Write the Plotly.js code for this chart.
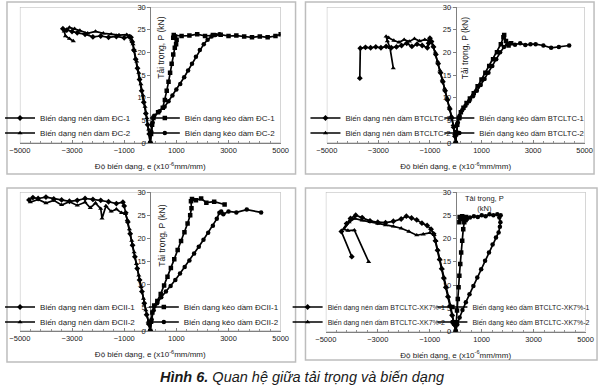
<!DOCTYPE html>
<html>
<head>
<meta charset="utf-8">
<script src="https://cdn.plot.ly/plotly-3.0.1.min.js"></script>
<style>html,body{margin:0;padding:0;background:#fff}#chart{width:600px;height:391px}</style>
</head>
<body>
<div id="chart"></div>
<script>
// ---------- DATA (strain e in x10^-6 mm/mm, load P in kN) ----------
const xTickVals = [-5000, -3000, -1000, 1000, 3000, 5000];
const yTickVals = [0, 5, 10, 15, 20, 25, 30];

// Panel 1: ĐC
const dcNames = ["Biến dạng nén dầm ĐC-1", "Biến dạng kéo dầm ĐC-1", "Biến dạng nén dầm ĐC-2", "Biến dạng kéo dầm ĐC-2"];
const dcNen1X = [0,-40,-100,-170,-250,-330,-410,-490,-560,-630,-690,-740,-800,-1000,-1300,-1600,-1900,-2200,-2500,-2800,-3000,-3200,-3350];
const dcNen1Y = [0,2,4,6.5,9,11.5,14,16.5,18.5,20.5,22.3,23.3,23.4,23.2,23.5,23.3,23.6,23.4,24,24.3,24.6,24.9,25.2];
const dcNen2X = [0,-60,-130,-200,-280,-360,-440,-520,-600,-660,-720,-780,-900,-1200,-1500,-1800,-2100,-2400,-2700,-2900,-3100,-3300,-3250,-3100,-2950];
const dcNen2Y = [0,3,5.5,8,10.5,13,15.5,18,20.3,21.8,22.8,23.6,23.9,23.8,24,24.2,24.6,24.2,24.8,25.2,25.5,24.6,23.6,23,22.5];
const dcKeo1X = [0,30,70,120,300,480,560,630,700,760,820,880,940,990,1010,950,880,900,1200,1500,1800,2100,2400,2700,3000,3300,3600,3900,4200,4500,4800,5000];
const dcKeo1Y = [0,2,4,5.5,6.8,7.8,9.5,11.5,13.5,15.5,17.5,19.5,21,21.8,22.8,23.5,23.2,23.8,23.6,23.7,24,23.6,23.8,23.9,23.6,23.7,23.5,23.3,23.5,23.3,23.6,24];
const dcKeo2X = [0,40,90,150,350,550,700,850,1000,1150,1300,1450,1600,1750,1900,2050,2200,2350,2500,2650];
const dcKeo2Y = [0,2.5,4.5,6,7,8,9.2,10.5,11.8,13,14.5,16,17.5,19,20.5,21.8,22.8,23.5,23.8,24];

// Panel 2: BTCLTC
const btNames = ["Biến dạng nén dầm BTCLTC-1", "Biến dạng kéo dầm BTCLTC-1", "Biến dạng nén dầm BTCLTC-2", "Biến dạng kéo dầm BTCLTC-2"];
const btNen1X = [0,-30,-80,-150,-230,-320,-410,-500,-590,-680,-770,-860,-940,-1000,-1050,-1100,-1300,-1500,-1700,-1900,-2100,-2300,-2500,-2700,-2900,-3100,-3300,-3500,-3700,-3720];
const btNen1Y = [0,1.5,3.5,5.5,7.5,9.5,11.5,13.5,15.5,17.5,19.5,21.2,22.4,23.1,22,21,21.5,21.8,21.3,22,21.5,21.2,21,21.3,21,21.2,21,21.1,20.9,14.3];
const btNen2X = [0,-40,-100,-170,-250,-340,-430,-520,-610,-700,-790,-880,-960,-1020,-1200,-1400,-1600,-1800,-2000,-2200,-2400,-2600,-2700,-2650,-2550,-2420];
const btNen2Y = [0,2,4,6,8,10,12,14,16,18,20,21.5,22.3,22.6,22.8,22.5,23,22.4,22.8,22.2,22.6,23.2,23.5,22.5,21,16.5];
const btKeo1X = [0,20,60,120,200,300,420,550,700,850,1000,1150,1300,1450,1600,1750,1850,1880,1950,2050,2150];
const btKeo1Y = [0,2,4,5.5,6.8,7.8,8.8,9.8,11,12.5,14,15.5,17,18.5,20,21.8,23.3,23.8,22.5,21.5,22];
const btKeo2X = [0,30,80,150,250,380,520,670,820,970,1120,1270,1420,1570,1720,1870,2000,2100,2300,2500,2700,2900,3100,3400,3700,4000,4400];
const btKeo2Y = [0,2.5,4.5,6,7.2,8.2,9.2,10.3,11.5,12.8,14.1,15.5,17,18.5,20,21.2,21.8,22,21.7,22,21.6,21.8,21.8,21.5,21,21.2,21.5];

// Panel 3: ĐCII
const dciiNames = ["Biến dạng nén dầm ĐCII-1", "Biến dạng kéo dầm ĐCII-1", "Biến dạng nén dầm ĐCII-2", "Biến dạng kéo dầm ĐCII-2"];
const dciiNen1X = [0,-60,-140,-230,-320,-410,-500,-590,-680,-770,-860,-940,-1000,-1050,-1300,-1600,-1900,-2200,-2500,-2800,-3100,-3400,-3700,-4000,-4300,-4500,-4650];
const dciiNen1Y = [0,1.5,3.5,6,8.5,11,13.5,16,18.5,21,23.5,25.5,27,27.8,27.5,27.9,28.2,28.4,28.6,28.2,28,28.3,28.5,28.9,28.6,28.8,28.3];
const dciiNen2X = [0,-80,-170,-260,-350,-440,-530,-620,-710,-800,-880,-950,-1100,-1300,-1500,-1700,-1850,-1900,-2100,-2300,-2500,-2800,-3100,-3400,-3700,-4000,-4300,-4600];
const dciiNen2Y = [0,2,4.5,7,9.5,12,14.5,17,19.5,22,24,25.3,25.5,26.3,25.8,27,24.3,26.4,27.6,26.6,27.8,27.1,27.9,27.2,28.2,27.6,28.4,27.8];
const dciiKeo1X = [0,30,80,150,270,400,530,660,790,920,1050,1180,1310,1430,1530,1580,1560,1600,1750,1950,2150,2450,2850];
const dciiKeo1Y = [0,2,4,5.5,6.5,8,9.8,11.7,13.6,15.5,17.5,19.4,21.3,23.2,25,26.5,28,28.5,28.2,28.6,27.7,27.9,27.3];
const dciiKeo2X = [0,50,130,260,420,600,780,960,1140,1320,1500,1680,1860,2040,2220,2400,2550,2650,2720,2800,3000,3300,3700,4250];
const dciiKeo2Y = [0,2.5,4.5,6,7.3,8.5,9.7,11,12.4,13.8,15.2,16.7,18.2,19.7,21.2,22.7,24.2,25.5,25.8,25.2,25.8,25.6,26.2,25.6];

// Panel 4: BTCLTC-XK7%
const xkNames = ["Biến dạng nén dầm BTCLTC-XK7%-1", "Biến dạng kéo dầm BTCLTC-XK7%-1", "Biến dạng nén dầm BTCLTC-XK7%-2", "Biến dạng kéo dầm BTCLTC-XK7%-2"];
const xkNen1X = [0,-60,-140,-220,-300,-380,-460,-540,-620,-700,-780,-850,-950,-1100,-1300,-1500,-1700,-1900,-2100,-2400,-2700,-3000,-3300,-3600,-3850,-4050,-4200,-4400,-4000];
const xkNen1Y = [0,1.5,3.5,5.5,7.5,9.5,11.5,13.5,15.5,17.5,19.5,21,22,22.8,23.3,24,24.4,24.8,24.2,23.7,23.4,23.5,23.8,24.5,25,24.3,23.2,21.5,16.1];
const xkNen2X = [0,-50,-120,-200,-280,-360,-440,-520,-600,-680,-760,-830,-1000,-1250,-1500,-1800,-2100,-2400,-2700,-3000,-3300,-3600,-3900,-4100,-4300,-4150,-3900,-3350];
const xkNen2Y = [0,1.5,3.5,5.5,7.5,9.5,11.5,13.5,15.5,17.5,19.5,20.8,21.2,20.9,20.7,21.5,22.2,22.6,22.9,23.2,23.6,23.9,24.3,23.5,22,21.7,21.8,15];
const xkKeo1X = [0,20,50,80,110,140,175,210,250,290,330,380,420,300,180,140,150,250,400];
const xkKeo1Y = [0,2,4.5,7,9.5,12,14.5,17,19.5,22,23.5,24,24.3,24.4,24.2,23.5,24.6,24.8,24.6];
const xkKeo2X = [0,60,150,260,390,530,680,830,980,1130,1280,1420,1550,1650,1700,1720,1680,1730,1600,1450,1300,1150,1000,850,700,550,420];
const xkKeo2Y = [0,1.5,3,4.6,6.3,8,9.8,11.6,13.4,15.2,17,18.7,20.2,21.3,22.5,23.5,24.5,25,25.2,25,25.2,24.8,25,24.6,24.8,24.5,24.3];

// ---------- LAYOUT HELPERS ----------
const W = 600, H = 391;
const px = v => v / W, py = v => 1 - v / H;
const FONT = '"Liberation Sans", Arial, Helvetica, sans-serif';
const symbols = ['diamond', 'square', 'triangle-up', 'circle'];

const panels = [
  {names: dcNames, xs: [dcNen1X, dcKeo1X, dcNen2X, dcKeo2X], ys: [dcNen1Y, dcKeo1Y, dcNen2Y, dcKeo2Y],
   xl: 15, xr: 278, yt: 7, yb: 143, box: [2, 2, 293, 174],
   leg: {cols: [35, 181], rows: [118, 133], size: 8},
   ytitle: {x: 157, y: 48, rot: true}},
  {names: btNames, xs: [btNen1X, btKeo1X, btNen2X, btKeo2X], ys: [btNen1Y, btKeo1Y, btNen2Y, btKeo2Y],
   xl: 324.5, xr: 584.5, yt: 7, yb: 143, box: [303, 2, 594, 174],
   leg: {cols: [343, 478], rows: [118, 133], size: 7.7},
   ytitle: {x: 464, y: 48, rot: true}},
  {names: dciiNames, xs: [dciiNen1X, dciiKeo1X, dciiNen2X, dciiKeo2X], ys: [dciiNen1Y, dciiKeo1Y, dciiNen2Y, dciiKeo2Y],
   xl: 15, xr: 278, yt: 192, yb: 331, box: [2, 188, 293, 362],
   leg: {cols: [35, 180], rows: [307, 322], size: 8},
   ytitle: {x: 158, y: 236, rot: true}},
  {names: xkNames, xs: [xkNen1X, xkKeo1X, xkNen2X, xkKeo2X], ys: [xkNen1Y, xkKeo1Y, xkNen2Y, xkKeo2Y],
   xl: 323.5, xr: 585.5, yt: 192, yb: 331.5, box: [303, 188, 597, 360],
   leg: {cols: [325, 471], rows: [307, 322], size: 7},
   ytitle: {x: 484, y: 203, rot: false}}
];

const traces = [];
const layout = {
  width: W, height: H, autosize: false,
  margin: {l: 0, r: 0, t: 0, b: 0, pad: 0},
  paper_bgcolor: '#ffffff', plot_bgcolor: 'rgba(0,0,0,0)',
  font: {family: FONT, color: '#1a1a1a', size: 8},
  showlegend: true,
  shapes: [], annotations: []
};

let legendCount = 0;
panels.forEach((p, i) => {
  const n = i + 1;
  const xa = 'xaxis' + (n === 1 ? '' : n), ya = 'yaxis' + (n === 1 ? '' : n);
  const xr = 'x' + (n === 1 ? '' : n), yr = 'y' + (n === 1 ? '' : n);
  layout[xa] = {
    domain: [px(p.xl), px(p.xr)], range: [-5000, 5000], anchor: yr,
    tickmode: 'array', tickvals: xTickVals, ticks: 'inside', ticklen: 3, tickcolor: '#808080',
    minor: {dtick: 400, tick0: -5000, ticks: 'inside', ticklen: 2, tickcolor: '#909090'},
    showline: true, linecolor: '#808080', linewidth: 1, showgrid: false, zeroline: false,
    tickfont: {size: 7.5, color: '#1a1a1a'}, layer: 'below traces', fixedrange: true,
    title: {text: 'Độ biến dạng, e (x10<sup>-6</sup>mm/mm)', font: {size: 8, color: '#1a1a1a'}, standoff: 9}
  };
  layout[ya] = {
    domain: [py(p.yb), py(p.yt)], range: [0, 30], anchor: 'free',
    position: px((p.xl + p.xr) / 2),
    tickmode: 'array', tickvals: yTickVals, ticks: 'outside', ticklen: 3, tickcolor: '#808080',
    showline: true, linecolor: '#808080', linewidth: 1, showgrid: false, zeroline: false,
    tickfont: {size: 7.5, color: '#1a1a1a'}, layer: 'below traces', fixedrange: true
  };
  layout.shapes.push({type: 'rect', xref: xr, yref: yr, x0: -5000, x1: 5000, y0: 0, y1: 30,
    line: {color: '#b4b4b4', width: 1}, layer: 'below'});
  layout.shapes.push({type: 'rect', xref: 'paper', yref: 'paper',
    x0: px(p.box[0]), x1: px(p.box[2]), y0: py(p.box[3]), y1: py(p.box[1]),
    line: {color: '#bdbdbd', width: 1.5}, layer: 'below'});
  layout.annotations.push(p.ytitle.rot ? {
    xref: 'paper', yref: 'paper', x: px(p.ytitle.x), y: py(p.ytitle.y), showarrow: false,
    xanchor: 'center', yanchor: 'middle',
    text: 'Tải trọng, P (kN)', textangle: -90, font: {size: 8.5, color: '#1a1a1a'}
  } : {
    xref: 'paper', yref: 'paper', x: px(p.ytitle.x), y: py(p.ytitle.y), showarrow: false,
    xanchor: 'center', yanchor: 'middle',
    text: 'Tải trọng, P<br>(kN)', font: {size: 7.5, color: '#1a1a1a'}
  });
  // one legend per entry: order nén-1, kéo-1 (row 1), nén-2, kéo-2 (row 2)
  p.names.forEach((nm, k) => {
    const row = k < 2 ? 0 : 1, col = k % 2;
    legendCount += 1;
    const id = 'legend' + (legendCount === 1 ? '' : legendCount);
    layout[id] = {
      x: px(p.leg.cols[col] - 40), y: py(p.leg.rows[row]), xanchor: 'left', yanchor: 'middle',
      orientation: 'v', bgcolor: 'rgba(0,0,0,0)', borderwidth: 0,
      font: {size: p.leg.size, color: '#1a1a1a'},
      itemclick: false, itemdoubleclick: false
    };
    traces.push({
      type: 'scatter', mode: 'lines+markers', name: nm, x: p.xs[k], y: p.ys[k],
      xaxis: xr, yaxis: yr, legend: id,
      line: {color: '#000000', width: 1.7},
      marker: {color: '#000000', size: 4.5, symbol: symbols[k]},
      hoverinfo: 'skip'
    });
  });
});

layout.annotations.push({
  xref: 'paper', yref: 'paper', x: px(299), y: py(377), showarrow: false,
  xanchor: 'center', yanchor: 'middle',
  text: '<b><i>Hình 6.</i></b><i> Quan hệ giữa tải trọng và biến dạng</i>',
  font: {size: 14.5, color: '#1a1a1a'}
});

Plotly.newPlot('chart', traces, layout, {displayModeBar: false, staticPlot: true});
</script>
</body>
</html>
